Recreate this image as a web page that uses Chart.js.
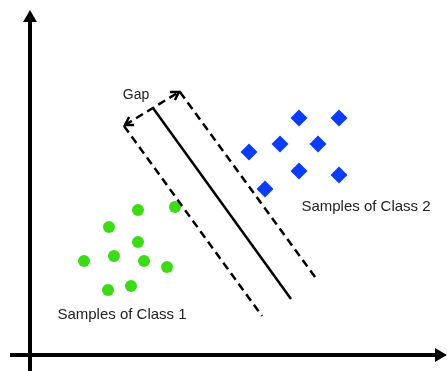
<!DOCTYPE html>
<html>
<head>
<meta charset="utf-8">
<script src="https://cdn.jsdelivr.net/npm/chart.js@4/dist/chart.umd.min.js"></script>
<style>
    html, body { margin: 0; padding: 0; background: #ffffff; }
    canvas { display: block; }
</style>
</head>
<body>
<canvas id="svmChart" width="447" height="371"></canvas>
<script>
// Sample positions (axis origin at 0,0)
const class1X = [10.8, 14.5, 7.9, 10.8, 8.4, 5.4, 11.4, 13.7, 7.8, 10.1];
const class1Y = [14.5, 14.8, 12.8, 11.3, 9.9, 9.4, 9.4, 8.8, 6.5, 6.9];
const class2X = [26.9, 30.9, 25.0, 28.8, 21.9, 26.9, 30.9, 23.5];
const class2Y = [23.7, 23.7, 21.1, 21.1, 20.3, 18.4, 18.0, 16.6];

// Separating line, the two margin lines and the gap arrow
const hyperplaneX = [12.3, 26.1];
const hyperplaneY = [24.7, 5.6];
const marginLowX = [9.4, 23.2];
const marginLowY = [22.9, 3.9];
const marginHighX = [15.0, 28.8];
const marginHighY = [26.3, 7.4];
const gapX = [9.5, 14.9];
const gapY = [23.0, 26.3];

// Axes
const xAxisX = [-2.0, 40.9];
const xAxisY = [0, 0];
const yAxisX = [0, 0];
const yAxisY = [-1.6, 33.7];

const labelTexts = ['Gap', 'Samples of Class 2', 'Samples of Class 1'];
const labelX = [10.6, 33.6, 9.2];
const labelY = [25.6, 14.4, 3.6];

function toPoints(xs, ys) {
    return xs.map(function (v, i) { return { x: v, y: ys[i] }; });
}

function lineSet(xs, ys, dashed) {
    return {
        data: toPoints(xs, ys),
        showLine: true,
        borderColor: '#000000',
        borderWidth: 2.5,
        borderDash: dashed ? [8, 5] : [],
        pointRadius: 0,
        fill: false
    };
}

function axisSet(xs, ys, rotation) {
    return {
        data: toPoints(xs, ys),
        showLine: true,
        borderColor: '#000000',
        borderWidth: 4,
        pointRadius: [0, 8],
        pointStyle: 'triangle',
        pointRotation: rotation,
        pointBackgroundColor: '#000000',
        pointBorderColor: '#000000',
        pointBorderWidth: 0
    };
}

const GAP_INDEX = 5;

const sketchPlugin = {
    id: 'sketch',
    afterDatasetsDraw: function (chart) {
        const ctx = chart.ctx;
        const x = chart.scales.x;
        const y = chart.scales.y;

        // open arrowheads on both ends of the gap arrow
        const pts = chart.getDatasetMeta(GAP_INDEX).data;
        ctx.save();
        ctx.strokeStyle = '#000000';
        ctx.lineWidth = 2.5;
        ctx.setLineDash([]);
        [[pts[0], pts[1]], [pts[1], pts[0]]].forEach(function (pair) {
            const tip = pair[0];
            const other = pair[1];
            const angle = Math.atan2(tip.y - other.y, tip.x - other.x);
            const len = 9;
            ctx.beginPath();
            ctx.moveTo(tip.x - len * Math.cos(angle - 0.55), tip.y - len * Math.sin(angle - 0.55));
            ctx.lineTo(tip.x, tip.y);
            ctx.lineTo(tip.x - len * Math.cos(angle + 0.55), tip.y - len * Math.sin(angle + 0.55));
            ctx.stroke();
        });

        ctx.fillStyle = '#222222';
        ctx.textAlign = 'center';
        ctx.textBaseline = 'alphabetic';
        labelTexts.forEach(function (t, i) {
            ctx.font = (i === 0 ? 14 : 15) + 'px "Liberation Sans", Arial, sans-serif';
            ctx.fillText(t, x.getPixelForValue(labelX[i]), y.getPixelForValue(labelY[i]));
        });
        ctx.restore();
    }
};

new Chart(document.getElementById('svmChart'), {
    type: 'scatter',
    data: {
        datasets: [
            axisSet(xAxisX, xAxisY, 90),
            axisSet(yAxisX, yAxisY, 0),
            lineSet(hyperplaneX, hyperplaneY, false),
            lineSet(marginLowX, marginLowY, true),
            lineSet(marginHighX, marginHighY, true),
            lineSet(gapX, gapY, true),
            {
                label: 'Class 1',
                data: toPoints(class1X, class1Y),
                pointStyle: 'circle',
                pointRadius: 6,
                backgroundColor: '#3cdc14',
                borderColor: '#3cdc14',
                borderWidth: 0
            },
            {
                label: 'Class 2',
                data: toPoints(class2X, class2Y),
                pointStyle: 'rectRot',
                pointRadius: 8.5,
                backgroundColor: '#0a3cff',
                borderColor: '#0a3cff',
                borderWidth: 0
            }
        ]
    },
    options: {
        responsive: false,
        animation: false,
        events: [],
        layout: { padding: 0, autoPadding: false },
        plugins: {
            legend: { display: false },
            tooltip: { enabled: false }
        },
        scales: {
            x: { type: 'linear', min: -3.0, max: 41.7, display: false },
            y: { type: 'linear', min: -1.6, max: 35.5, display: false }
        }
    },
    plugins: [sketchPlugin]
});
</script>
</body>
</html>
